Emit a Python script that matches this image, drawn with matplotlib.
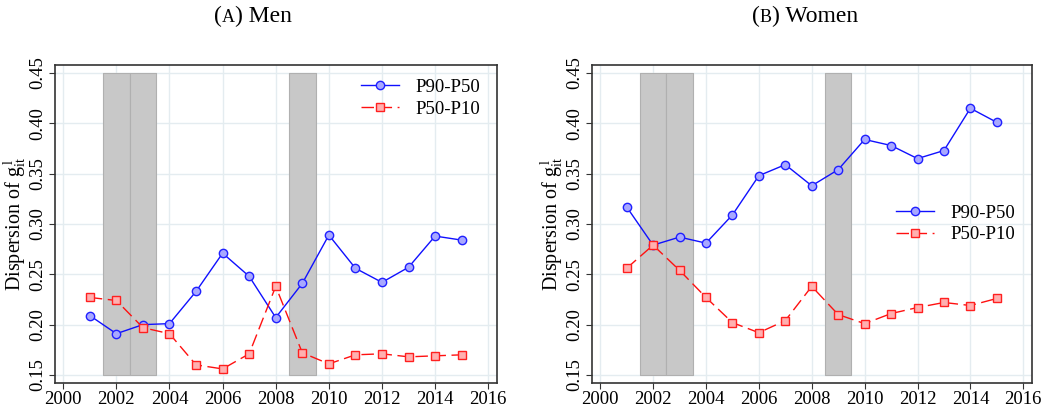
import matplotlib
matplotlib.use("Agg")
import matplotlib.pyplot as plt
from matplotlib.offsetbox import AnchoredOffsetbox, HPacker, TextArea

plt.rcParams["font.family"] = ["Liberation Serif", "DejaVu Serif"]
plt.rcParams["mathtext.fontset"] = "stix"

YEARS = list(range(2001, 2016))
MEN_P90_P50 = [0.209, 0.191, 0.200, 0.201, 0.233, 0.271, 0.248, 0.207, 0.241, 0.289, 0.256, 0.242, 0.257, 0.288, 0.284]
MEN_P50_P10 = [0.227, 0.224, 0.197, 0.191, 0.160, 0.156, 0.171, 0.238, 0.172, 0.161, 0.170, 0.171, 0.168, 0.169, 0.170]
WOMEN_P90_P50 = [0.317, 0.279, 0.287, 0.281, 0.309, 0.348, 0.359, 0.338, 0.354, 0.384, 0.378, 0.365, 0.373, 0.415, 0.401]
WOMEN_P50_P10 = [0.256, 0.279, 0.254, 0.227, 0.202, 0.192, 0.204, 0.238, 0.210, 0.201, 0.211, 0.217, 0.222, 0.219, 0.226]
RECESSIONS = [(2001.5, 2002.5), (2002.5, 2003.5), (2008.5, 2009.5)]
SHADE_RANGE = (0.15, 0.45)
XTICKS = list(range(2000, 2017, 2))
YTICKS = [0.15, 0.20, 0.25, 0.30, 0.35, 0.40, 0.45]
PANEL_LETTERS = ["A", "B"]
PANEL_NAMES = ["Men", "Women"]


def draw_panel(ax, hi, lo, legend_loc, anchor):
    for x0, x1 in RECESSIONS:
        ax.fill_between([x0, x1], SHADE_RANGE[0], SHADE_RANGE[1], color="#c8c8c8",
                        edgecolor="#b0b0b0", linewidth=0.8, zorder=1)
    ax.plot(YEARS, hi, color="#1010ff", linewidth=1.0, marker="o", markersize=6,
            markerfacecolor="#a8a8ff", markeredgecolor="#2020ff", markeredgewidth=1.0,
            label="P90-P50", zorder=3)
    ax.plot(YEARS, lo, color="#ff1010", linewidth=1.0, dashes=(9, 4), marker="s", markersize=6,
            markerfacecolor="#ffb0b0", markeredgecolor="#ff2020", markeredgewidth=1.0,
            label="P50-P10", zorder=3)
    ax.set_xlim(1999.69, 2016.33)
    ax.set_ylim(0.142, 0.458)
    ax.set_xticks(XTICKS)
    ax.set_yticks(YTICKS)
    ax.set_yticklabels([f"{v:.2f}" for v in YTICKS], rotation=90, va="center")
    ax.tick_params(labelsize=13.5, length=4, color="#333333", pad=2)
    ax.grid(True, color="#e4ecf0", linewidth=1.0, zorder=0)
    ax.set_axisbelow(True)
    for spine in ax.spines.values():
        spine.set_color("#333333")
        spine.set_linewidth(1.2)
    ax.set_ylabel(r"Dispersion of $\mathregular{g}^{\,\mathregular{l}}_{\mathregular{it}}$", fontsize=14.5, labelpad=1)
    ax.legend(loc=legend_loc, bbox_to_anchor=anchor, frameon=False, fontsize=13.5,
              handlelength=2.0, handletextpad=0.9, labelspacing=0.25)


def panel_title(fig, letter, name, xc):
    parts = [TextArea("(", textprops=dict(fontsize=17)),
             TextArea(letter, textprops=dict(fontsize=13)),
             TextArea(") " + name, textprops=dict(fontsize=17))]
    box = HPacker(children=parts, align="baseline", pad=0, sep=0)
    anchored = AnchoredOffsetbox(loc="center", child=box, frameon=False, pad=0,
                                 bbox_to_anchor=(xc, 1 - 16 / 409), bbox_transform=fig.transFigure)
    fig.add_artist(anchored)


fig = plt.figure(figsize=(10.49, 4.09), dpi=100)
ax1 = fig.add_axes([55 / 1049, 1 - 383 / 409, 442 / 1049, 318 / 409])
ax2 = fig.add_axes([592 / 1049, 1 - 383 / 409, 440 / 1049, 318 / 409])
draw_panel(ax1, MEN_P90_P50, MEN_P50_P10, "upper right", (1.0, 1.01))
draw_panel(ax2, WOMEN_P90_P50, WOMEN_P50_P10, "center right", (1.0, 0.50))
panel_title(fig, PANEL_LETTERS[0], PANEL_NAMES[0], 253 / 1049)
panel_title(fig, PANEL_LETTERS[1], PANEL_NAMES[1], 805 / 1049)
fig.savefig("out.png", dpi=100)
